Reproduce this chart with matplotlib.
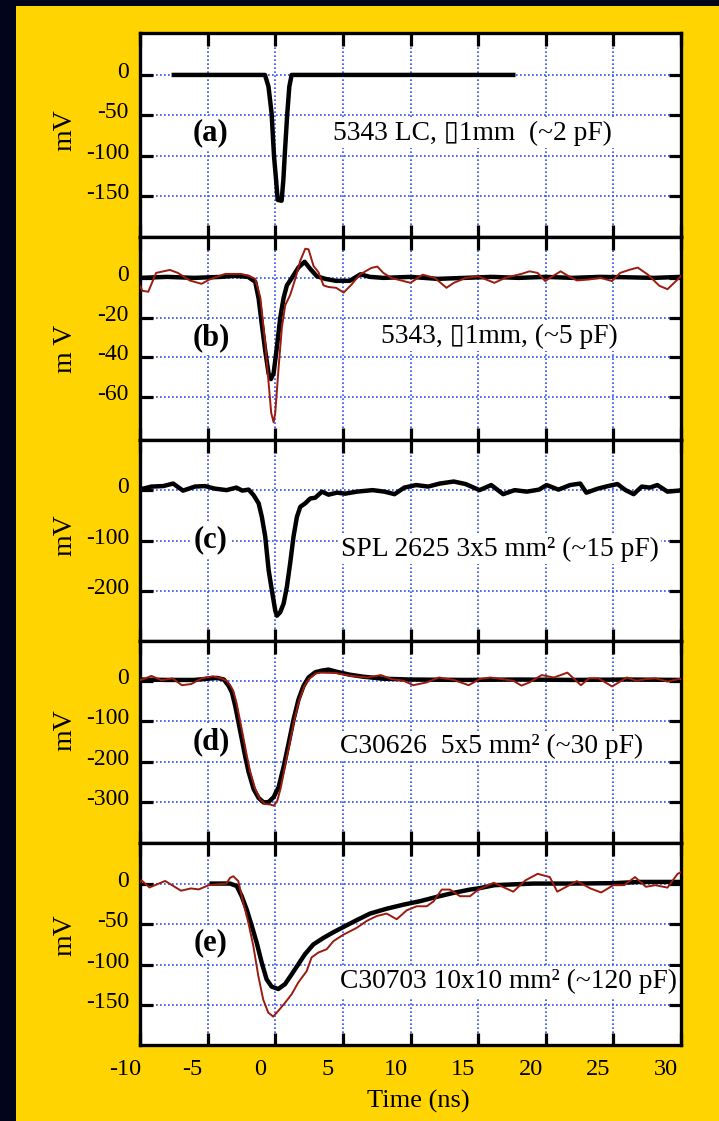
#!/usr/bin/env python3
"""Stacked sensor pulse shapes, panels (a)-(e): signal (mV) vs time (ns).

Black = measured pulse, dark red = second trace on the same sensor.
Values were read off the published figure by eye.
"""

import matplotlib
matplotlib.use("Agg")
import matplotlib.pyplot as plt
from matplotlib.patches import Rectangle
from matplotlib.transforms import ScaledTranslation

# ---- (a) 5343 LC ----
t_a = [-7.5, -5, -2.5, -0.76, -0.5, -0.27, -0.09, 0.06, 0.18, 0.47, 0.6, 0.72,
       0.89, 1.04, 1.21, 3, 6, 9, 12, 15, 17.6]
mv_a = [0, 0, 0, 0, -14.5, -47.6, -101, -130, -155, -156, -130, -94,
        -47.6, -14.5, 0, 0, 0, 0, 0, 0, 0]

# ---- (b) 5343 ----
t_b = [-10, -8, -6, -4, -3, -2, -1.48, -1.23, -0.99, -0.74, -0.49, -0.32, -0.12,
       0.12, 0.37, 0.62, 0.86, 1.23, 1.72, 2.17, 2.59, 3.08, 3.7, 4.5, 5.5, 6.3,
       7.0, 8, 10, 12, 14, 16, 18, 20, 22, 24, 26, 28, 30]
mv_b = [0, 0.5, 0, 0.5, 1, 0.5, -2, -10.4, -23.6, -36.8, -48.3, -51, -48,
        -35, -20, -10, -3.8, 0, 5.3, 8.1, 4.5, 0.8, -0.5, -1.5, -1.5, 1.8,
        0.5, 0, 0.5, -0.5, 0, 0.5, 0, 0.5, 0, 0.5, 0.3, 0, 0.5]
t_b_red = [-10, -9.83, -9.39, -8.81, -7.79, -7.2, -6.33, -5.45, -4.86, -3.7, -2.53,
           -1.94, -1.48, -1.1, -0.74, -0.49, -0.3, -0.12, 0, 0.25, 0.49, 0.74,
           1.1, 1.48, 1.85, 2.22, 2.46, 2.83, 3.2, 3.57, 3.94, 4.5, 5.06, 5.65,
           6.24, 7.1, 7.55, 7.99, 8.57, 10.0, 10.9, 11.8, 12.66, 13.2, 14.1, 15.0,
           16.2, 17.0, 18.2, 18.8, 19.4, 19.96, 20.5, 21.1, 21.7, 22.3, 23.2,
           24.06, 24.9, 25.5, 26.2, 26.8, 27.56, 28.4, 29.0, 29.75, 30]
mv_b_red = [-4, -6.5, -7, 2.5, 4, 2.5, -1.3, -3, -0.8, 2, 2,
            1, -0.5, -10, -33, -53, -68, -72.8, -68, -45, -25, -13.7,
            -8.7, -0.5, 8.6, 14.7, 14.4, 6, 2.8, -3.8, -4.6, -5, -7.4, -3.3,
            1.6, 5, 5.7, 2.5, 0, -2.5, 1.6, 0, -5, -2.5, 0, 0.8,
            -2.5, 0, 2, 3.3, 2.5, -1.6, 0.8, 3.3, 0.8, -1.3, -0.8,
            0, -1.6, 2.5, 4.1, 5.2, 1.6, -4, -5.7, -0.8, 1]

# ---- (c) SPL 2625 ----
t_c = [-10, -9.74, -9.16, -8.28, -7.55, -6.82, -5.94, -5.21, -4.48, -3.6, -2.87,
       -2.44, -1.97, -1.6, -1.23, -0.99, -0.74, -0.49, -0.25, 0, 0.12, 0.37,
       0.62, 0.86, 1.1, 1.35, 1.6, 1.85, 2.22, 2.59, 2.96, 3.45, 3.94, 4.56,
       5.16, 6.04, 7.2, 8.08, 8.82, 9.54, 10.42, 11.3, 12.17, 13.2, 14.07, 15.1,
       15.97, 16.85, 17.7, 18.6, 19.5, 20.06, 20.94, 21.8, 22.55, 23.0, 23.86,
       24.6, 25.3, 25.9, 26.5, 27.1, 27.7, 28.25, 29.0, 29.85, 30]
mv_c = [3, 3, 7, 8, 13, -1, 7, 8, 3, 0, 5,
        -1, 1, -10, -26, -53, -92, -158, -198, -238, -248, -241,
        -224, -191, -145, -92, -53, -33, -26, -16.5, -15, -3, -9, -5,
        -7, -3, 0, -3, -8, 5, 10, 7, 13, 17, 12, 0,
        10, -8, 0, -3, 1, 10, 1, 10, 13, -5, 3,
        8, 12, 0, -8, 7, 5, 10, -3, -1, 0]

# ---- (d) C30626 ----
t_d = [-10, -8, -6, -5, -4.3, -3.8, -3.45, -3.2, -2.96, -2.71, -2.46, -2.22, -1.97,
       -1.6, -1.23, -0.86, -0.49, -0.12, 0.25, 0.62, 0.99, 1.35, 1.72, 2.09,
       2.46, 2.96, 3.45, 3.94, 4.43, 5.5, 6.5, 8, 10, 14, 18, 22, 26, 30]
mv_d = [3, 2, 2, 5, 7, 3, -12.5, -29, -62, -104, -146, -187, -225,
        -267, -289, -300, -299, -287, -262, -212, -154, -96, -46, -12.5,
        8, 21, 25, 27.5, 23, 15, 10, 5, 3, 2, 3, 2, 3, 2]
t_d_red = [-10, -9.74, -9.16, -8.4, -7.6, -6.9, -6.2, -5.45, -4.6, -4.0, -3.6, -3.35,
           -3.1, -2.86, -2.61, -2.36, -2.12, -1.87, -1.5, -1.13, -0.76, -0.39,
           -0.1, 0.15, 0.4, 0.7, 1.05, 1.4, 1.77, 2.14, 2.5, 3.0, 3.3, 4.5, 5.6,
           6.8, 7.8, 8.6, 9.5, 10.2, 11.2, 12.1, 13.2, 14.3, 15.1, 15.9, 16.8,
           17.6, 18.2, 18.8, 19.7, 20.6, 21.6, 22.6, 23.2, 23.9, 24.9, 26.0,
           26.7, 27.4, 28.1, 29.0, 29.8, 30]
mv_d_red = [2, 4, 12, 1, 6, -11, -8, 6, 11, 6, 0, -10,
            -25, -55, -97, -140, -182, -222, -265, -292, -304, -305,
            -308, -296, -265, -215, -156, -98, -48, -14, 5, 18, 20, 19, 12,
            8, 14, 4, 0, -11, -4, 8, 2, -11, 4, 8, 4,
            0, -12, -4, 14, 8, 20, -11, 6, 6, -14, 8,
            0, 4, 6, -2, 4, 4]

# ---- (e) C30703 ----
t_e = [-4.7, -3.35, -2.85, -2.48, -2.11, -1.74, -1.37, -1.0, -0.64, -0.27, 0.22,
       0.72, 1.21, 1.7, 2.2, 2.82, 3.56, 4.3, 5.16, 6.03, 7.01, 8.24, 9.48,
       10.71, 11.94, 13.17, 14.4, 15.0, 16.2, 17.6, 19.1, 22, 25, 27, 30]
mv_e = [0, 0, -3, -15.6, -32, -52, -73, -97.5, -118, -127, -130,
        -124, -112, -99.6, -87, -75, -67, -60, -52.5, -45, -37, -31, -26,
        -21.7, -16.4, -11.5, -7.4, -6, -2, -1, 0, 0, 0.5, 2, 2]
t_e_red = [-10, -9.89, -9.3, -8.14, -6.97, -6.24, -5.65, -4.92, -3.6, -3.35, -3.1,
           -2.73, -2.36, -1.99, -1.62, -1.25, -0.89, -0.52, -0.15, 0.22, 0.72,
           1.21, 1.7, 2.32, 2.69, 3.19, 3.8, 4.3, 5.04, 6.03, 6.77, 7.51, 8.24,
           8.98, 9.72, 10.46, 11.2, 11.7, 12.31, 12.92, 13.66, 14.4, 14.97,
           16.15, 17.6, 18.5, 19.4, 20.3, 20.85, 22.3, 23.3, 24.1, 25.0, 25.8,
           26.6, 27.4, 28.1, 29.0, 29.75, 30]
mv_e_red = [2, 4, -4.8, 3.2, -8.8, -6, -7.2, -2, 0, 7, 9,
            3, -24, -48, -77, -114, -143, -159, -164, -157, -147,
            -136.5, -122, -108, -91, -85, -81, -71, -63, -54.5, -46, -40, -37,
            -44, -33, -28, -28, -22, -7.4, -7.4, -15.6, -15.6, -8,
            1, -10, 4, 12, 8, -10, 3, -6, -11, -2, -2,
            8, -4, -2, -5, 12, 14]

# ---- panel text ----
panel_tags = ["(a)", "(b)", "(c)", "(d)", "(e)"]
panel_notes = [
    "5343 LC, \u25af1mm  (~2 pF)",
    "5343, \u25af1mm, (~5 pF)",
    "SPL 2625 3x5 mm\u00b2 (~15 pF)",
    "C30626  5x5 mm\u00b2 (~30 pF)",
    "C30703 10x10 mm\u00b2 (~120 pF)",
]
y_labels = ["mV", "m V", "mV", "mV", "mV"]
y_ticks = [
    [0, -50, -100, -150],
    [0, -20, -40, -60],
    [0, -100, -200],
    [0, -100, -200, -300],
    [0, -50, -100, -150],
]
x_ticks = [-10, -5, 0, 5, 10, 15, 20, 25, 30]

# ---- look ----
NAVY = "#02041c"
YELLOW = "#ffd400"
RED = "#9b1b0e"
GRID_BLUE = "#2f4ff0"
W, H = 719, 1121
PANEL_X = (140, 681)
PANEL_Y = [(33, 237), (237, 440), (440, 641), (641, 843), (843, 1045)]
Y_LIMS = [(-201, 52), (-81.7, 20.6), (-298, 99), (-400, 98), (-199, 50)]
TAG_POS = [(0.131, 0.51), (0.131, 0.502), (0.131, 0.502), (0.131, 0.50), (0.131, 0.505)]
NOTE_POS = [(0.357, 0.51), (0.445, 0.509), (0.372, 0.458), (0.37, 0.48), (0.37, 0.313)]
YLABEL_Y = [0.524, 0.45, 0.527, 0.56, 0.545]


def _style_axes(ax, fig, i, last):
    ax.set_xlim(-10, 30)
    ax.set_ylim(*Y_LIMS[i])
    ax.set_xticks(x_ticks)
    ax.set_yticks(y_ticks[i])
    ax.set_yticklabels([str(v) for v in y_ticks[i]], fontsize=17)
    ax.grid(True, color=GRID_BLUE, linestyle=(0, (1, 1.4)), linewidth=1.2, zorder=0)
    ax.set_axisbelow(True)
    ax.tick_params(which="both", direction="in", top=True, right=True,
                   length=9, width=2.3, color="black", pad=8)
    for sp in ax.spines.values():
        sp.set_linewidth(2.4)
    if last:
        ax.set_xticklabels([str(v) for v in x_ticks], fontsize=17.5)
        ax.tick_params(axis="x", pad=10)
        shift = ScaledTranslation(-0.15, 0, fig.dpi_scale_trans)
        for lab in ax.get_xticklabels():
            lab.set_transform(lab.get_transform() + shift)
    else:
        ax.set_xticklabels([])
    up = ScaledTranslation(0, 0.05, fig.dpi_scale_trans)
    for lab in ax.get_yticklabels():
        lab.set_transform(lab.get_transform() + up)
    ax.set_ylabel(y_labels[i], fontsize=20)
    ax.yaxis.label.set_verticalalignment("center")
    ax.yaxis.set_label_coords(-0.138, YLABEL_Y[i])


def main():
    plt.rcParams["font.family"] = ["Liberation Serif", "DejaVu Sans"]
    fig = plt.figure(figsize=(W / 100, H / 100), dpi=100, facecolor=NAVY)
    fig.add_artist(Rectangle((16 / W, 0), 1, 1 - 6 / H, transform=fig.transFigure,
                             facecolor=YELLOW, edgecolor="none", zorder=-5))

    black = [(t_a, mv_a), (t_b, mv_b), (t_c, mv_c), (t_d, mv_d), (t_e, mv_e)]
    red = [None, (t_b_red, mv_b_red), None, (t_d_red, mv_d_red), (t_e_red, mv_e_red)]

    x0, x1 = PANEL_X
    for i, (top, bot) in enumerate(PANEL_Y):
        ax = fig.add_axes([x0 / W, 1 - bot / H, (x1 - x0) / W, (bot - top) / H])
        ax.set_facecolor("white")
        _style_axes(ax, fig, i, i == len(PANEL_Y) - 1)
        ax.plot(*black[i], color="black", linewidth=3.2, solid_joinstyle="round", zorder=3)
        if red[i] is not None:
            ax.plot(*red[i], color=RED, linewidth=1.4, zorder=4)
        box = dict(facecolor="white", edgecolor="none", pad=1.5)
        ax.text(*TAG_POS[i], panel_tags[i], transform=ax.transAxes, fontsize=22,
                fontweight="bold", ha="center", va="center", bbox=box, zorder=2)
        ax.text(*NOTE_POS[i], panel_notes[i], transform=ax.transAxes, fontsize=19.8,
                ha="left", va="center", bbox=box, zorder=2)

    fig.text(418 / W, 1 - 1101 / H, "Time (ns)", ha="center", va="center", fontsize=19)
    fig.savefig("out.png", dpi=100, facecolor=NAVY)


if __name__ == "__main__":
    main()
